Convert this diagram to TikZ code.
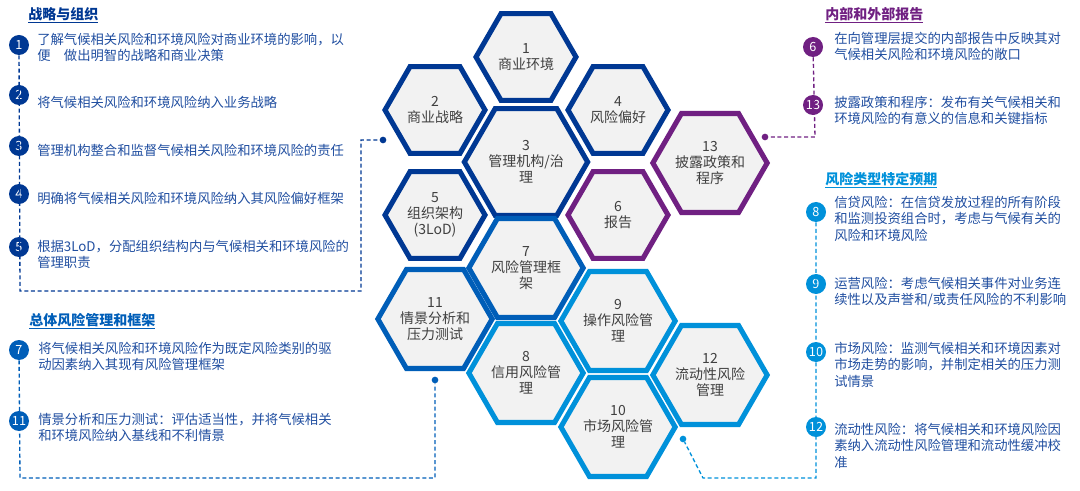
\documentclass[tikz,border=0pt]{standalone}
\usepackage{fontspec}
\setmainfont{Noto Sans CJK SC}
\usetikzlibrary{shapes.geometric}
\definecolor{dkblue}{RGB}{0,56,147}
\definecolor{mdblue}{RGB}{0,94,184}
\definecolor{ltblue}{RGB}{0,145,218}
\definecolor{purp}{RGB}{112,32,130}
\definecolor{txtblue}{RGB}{32,78,160}
\definecolor{hexfill}{RGB}{242,242,242}
\definecolor{hextext}{RGB}{64,64,64}
\tikzset{
	hexa/.style={regular polygon, regular polygon sides=6, minimum size=75pt, inner sep=0pt, line width=3.8pt, fill=hexfill, draw=#1, text=hextext, font=\fontsize{10.5pt}{12pt}\selectfont, align=center},
	numdot/.style={circle, fill=#1, text=white, minimum size=15pt, inner sep=0pt, font=\fontsize{9.5pt}{10pt}\selectfont},
	body/.style={anchor=north west, align=left, text=txtblue, font=\fontsize{10pt}{12.3pt}\selectfont, inner sep=0pt},
	head/.style={anchor=west, text=#1, font=\bfseries\fontsize{10.5pt}{12pt}\selectfont, inner sep=0pt},
	link/.style={densely dashed, line width=1pt, draw=#1},
	pin/.style={circle, fill=#1, minimum size=5pt, inner sep=0pt}
}
\begin{document}
\begin{tikzpicture}[x=0.75pt, y=-0.75pt]
	\useasboundingbox (0,0) rectangle (1080,491);

	% hexagons
	\foreach \n/\x/\y/\c/\t in {
		1/526/57/dkblue/{1\\商业环境},
		2/435/110/dkblue/{2\\商业战略},
		4/618/110/dkblue/{4\\风险偏好},
		3/526/162/dkblue/{3\\管理机构/治\\理},
		13/710/163/purp/{13\\披露政策和\\程序},
		5/435/215/dkblue/{5\\组织架构\\(3LoD)},
		6/618/215/purp/{6\\报告},
		7/526/268/mdblue/{7\\风险管理框\\架},
		11/435/319/mdblue/{11\\情景分析和\\压力测试},
		9/618/321/ltblue/{9\\操作风险管\\理},
		8/526/373/ltblue/{8\\信用风险管\\理},
		12/710/375/ltblue/{12\\流动性风险\\管理},
		10/618/427/ltblue/{10\\市场风险管\\理}}
		\node[hexa=\c] (h\n) at (\x,\y) {\t};

	% strategy and organisation
	\node[head=dkblue] (hdA) at (28,15) {\underline{战略与组织}};
	\node[numdot=dkblue] (c1) at (19,45) {1};
	\node[numdot=dkblue] (c2) at (19,95) {2};
	\node[numdot=dkblue] (c3) at (19,146) {3};
	\node[numdot=dkblue] (c4) at (19,194) {4};
	\node[numdot=dkblue] (c5) at (19,247) {5};
	\node[body] (t1) at (37,33) {了解气候相关风险和环境风险对商业环境的影响，以\\便\quad 做出明智的战略和商业决策};
	\node[body] (t2) at (37,96) {将气候相关风险和环境风险纳入业务战略};
	\node[body] (t3) at (37,144) {管理机构整合和监督气候相关风险和环境风险的责任};
	\node[body] (t4) at (37,192) {明确将气候相关风险和环境风险纳入其风险偏好框架};
	\node[body] (t5) at (37,240) {根据3LoD，分配组织结构内与气候相关和环境风险的\\管理职责};
	\node[pin=dkblue] (pA) at (383,140) {};
	\coordinate (kA1) at (20,291);
	\coordinate (kA2) at (361,291);
	\coordinate (kA3) at (361,140);
	\draw[link=dkblue] (c1) -- (kA1) -- (kA2) -- (kA3) -- (pA);

	% overall risk management
	\node[head=mdblue] (hdB) at (29,321) {\underline{总体风险管理和框架}};
	\node[numdot=mdblue] (c7) at (19,350) {7};
	\node[numdot=mdblue] (c11) at (19,421) {11};
	\node[body] (t7) at (38,342) {将气候相关风险和环境风险作为既定风险类别的驱\\动因素纳入其现有风险管理框架};
	\node[body] (t11) at (38,413) {情景分析和压力测试：评估适当性，并将气候相关\\和环境风险纳入基线和不利情景};
	\node[pin=mdblue] (pB) at (435,380) {};
	\coordinate (kB1) at (20,478);
	\coordinate (kB2) at (435,478);
	\draw[link=mdblue] (c7) -- (kB1) -- (kB2) -- (pB);

	% reporting
	\node[head=purp] (hdC) at (825,15) {\underline{内部和外部报告}};
	\node[numdot=purp] (c6) at (813,47) {6};
	\node[numdot=purp] (c13) at (813,105) {13};
	\node[body] (t6) at (834,32) {在向管理层提交的内部报告中反映其对\\气候相关风险和环境风险的敞口};
	\node[body] (t13) at (834,96) {披露政策和程序：发布有关气候相关和\\环境风险的有意义的信息和关键指标};
	\node[pin=purp] (pC) at (765,137) {};
	\coordinate (kC1) at (815,137);
	\draw[link=purp] (c6) -- (kC1) -- (pC);

	% risk type specific
	\node[head=ltblue] (hdD) at (825,180) {\underline{风险类型特定预期}};
	\node[numdot=ltblue] (c8) at (816,212) {8};
	\node[numdot=ltblue] (c9) at (816,284) {9};
	\node[numdot=ltblue] (c10) at (816,352) {10};
	\node[numdot=ltblue] (c12) at (816,427) {12};
	\node[body] (t8) at (834,196) {信贷风险：在信贷发放过程的所有阶段\\和监测投资组合时，考虑与气候有关的\\风险和环境风险};
	\node[body] (t9) at (834,277) {运营风险：考虑气候相关事件对业务连\\续性以及声誉和/或责任风险的不利影响};
	\node[body] (t10) at (834,342) {市场风险：监测气候相关和环境因素对\\市场走势的影响，并制定相关的压力测\\试情景};
	\node[body] (t12) at (834,423) {流动性风险：将气候相关和环境风险因\\素纳入流动性风险管理和流动性缓冲校\\准};
	\node[pin=ltblue] (pD) at (683,439) {};
	\coordinate (kD1) at (816,478);
	\coordinate (kD2) at (703,478);
	\draw[link=ltblue] (c8) -- (kD1) -- (kD2) -- (pD);
\end{tikzpicture}
\end{document}
